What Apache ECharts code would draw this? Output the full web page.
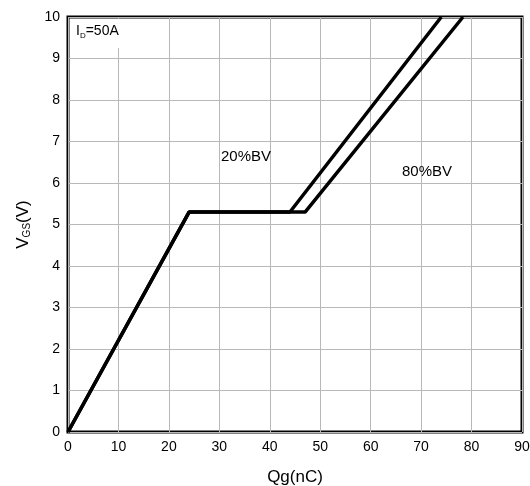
<!DOCTYPE html>
<html>
<head>
<meta charset="utf-8">
<script src="https://cdn.jsdelivr.net/npm/echarts@6/dist/echarts.min.js"></script>
<style>
  html, body { margin: 0; padding: 0; background: #fff; }
  #chart { width: 530px; height: 486px; }
</style>
</head>
<body>
<div id="chart"></div>
<script>
// Gate charge curves: VGS vs Qg at two drain-voltage conditions
const qgTicks = [0, 10, 20, 30, 40, 50, 60, 70, 80, 90];
const vgsTicks = [0, 1, 2, 3, 4, 5, 6, 7, 8, 9, 10];
const curve20Qg = [0, 24, 44, 74];
const curve20Vgs = [0, 5.3, 5.3, 10];
const curve80Qg = [0, 24, 47, 78.3];
const curve80Vgs = [0, 5.3, 5.3, 10];

const pair = (xs, ys) => xs.map((x, i) => [x, ys[i]]);

const font = 'Liberation Sans, Arial, sans-serif';
const chart = echarts.init(document.getElementById('chart'), null, { renderer: 'canvas' });

const lineStyle = { color: '#000', width: 3.5 };

chart.setOption({
  animation: false,
  backgroundColor: '#fff',
  grid: {
    left: 68, right: 8, top: 17, bottom: 54,
    containLabel: false, outerBoundsMode: 'none',
    show: true, borderColor: '#000', borderWidth: 3, backgroundColor: 'transparent'
  },
  xAxis: {
    type: 'value',
    min: qgTicks[0], max: qgTicks[qgTicks.length - 1], interval: 10,
    name: 'Qg(nC)', nameLocation: 'middle', nameGap: 37,
    nameTextStyle: { fontFamily: font, fontSize: 17, color: '#000' },
    axisLine: { show: false }, axisTick: { show: false },
    axisLabel: { fontFamily: font, fontSize: 14, color: '#000', margin: 8 },
    splitLine: { lineStyle: { color: '#b8b8b8', width: 1 } }
  },
  yAxis: {
    type: 'value',
    min: vgsTicks[0], max: vgsTicks[vgsTicks.length - 1], interval: 1,
    name: 'V{sub|GS}(V)', nameLocation: 'middle', nameGap: 36, nameRotate: 90,
    nameTextStyle: {
      fontFamily: font, fontSize: 17, color: '#000',
      rich: { sub: { fontFamily: font, fontSize: 10, color: '#000', verticalAlign: 'bottom', padding: [8, 0, 0, 0] } }
    },
    axisLine: { show: false }, axisTick: { show: false },
    axisLabel: { fontFamily: font, fontSize: 14, color: '#000', margin: 8 },
    splitLine: { lineStyle: { color: '#b8b8b8', width: 1 } }
  },
  series: [
    { name: '20%BV', type: 'line', data: pair(curve20Qg, curve20Vgs), symbol: 'none', lineStyle, clip: true, z: 3 },
    { name: '80%BV', type: 'line', data: pair(curve80Qg, curve80Vgs), symbol: 'none', lineStyle, clip: true, z: 3 }
  ],
  graphic: [
    { type: 'rect', left: 70, top: 19, shape: { width: 60, height: 29 }, style: { fill: '#fff' }, z: 5 },
    {
      type: 'text', left: 76, top: 24, z: 6,
      style: {
        text: 'I{sub|D}=50A', font: '14px ' + font, fill: '#000',
        rich: { sub: { fontSize: 8, fontFamily: font, fill: '#000', padding: [9, 0, 0, 0] } }
      }
    },
    { type: 'text', left: 221, top: 149, z: 6, style: { text: '20%BV', font: '15px ' + font, fill: '#000' } },
    { type: 'text', left: 402, top: 164, z: 6, style: { text: '80%BV', font: '15px ' + font, fill: '#000' } }
  ]
});
</script>
</body>
</html>
